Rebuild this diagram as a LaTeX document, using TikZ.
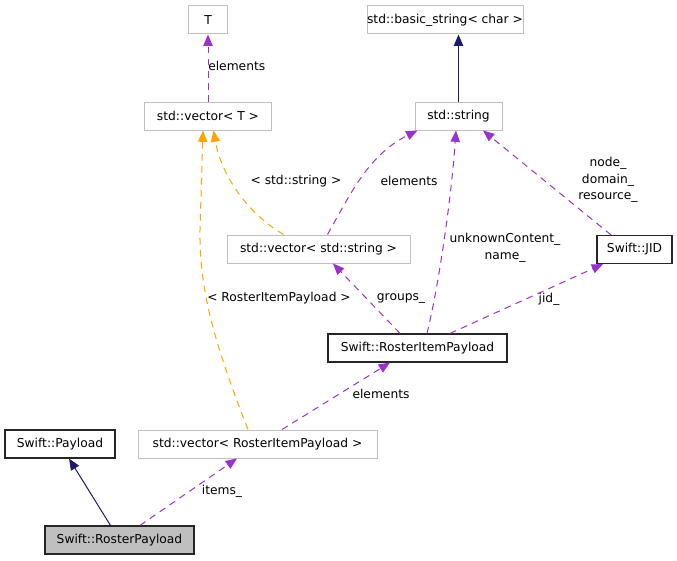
\documentclass[tikz,border=0pt]{standalone}
\usepackage{fontspec}
\setmainfont{DejaVu Sans}
\usetikzlibrary{arrows.meta,calc}

\definecolor{usecol}{RGB}{154,50,205}
\definecolor{tmplcol}{RGB}{255,165,0}
\definecolor{inhcol}{RGB}{25,25,112}
\definecolor{extgrey}{RGB}{191,191,191}
\definecolor{curgrey}{RGB}{191,191,191}

\tikzset{
  box/.style={rectangle,inner sep=0pt,minimum height=21pt,
    font=\fontsize{9.2}{11}\selectfont},
  cls/.style={box,draw=black!85,line width=0.9pt},
  ext/.style={box,draw=extgrey,line width=0.75pt},
  cur/.style={cls,fill=curgrey},
  tip/.style={-{Triangle[length=8.5pt,width=7pt]}},
  usage/.style={tip,draw=usecol,line width=0.75pt,dash pattern=on 5pt off 4pt},
  tmpl/.style={usage,draw=tmplcol},
  inherit/.style={tip,draw=inhcol,line width=0.75pt},
  lbl/.style={inner sep=0pt,align=center,font=\fontsize{9.2}{12.5}\selectfont}
}

\begin{document}
\begin{tikzpicture}[x=0.75pt,y=-0.75pt]
  \useasboundingbox (0,0) rectangle (677,560);

  % classes
  \node[ext, minimum width=29.25pt]  (T)   at (208,20)  {T};
  \node[ext, minimum width=117pt]    (bs)  at (445,20)    {std::basic\_string< char >};
  \node[ext, minimum width=95.25pt]  (vt)  at (208,116) {std::vector< T >};
  \node[ext, minimum width=65.25pt]  (ss)  at (458.5,116) {std::string};
  \node[ext, minimum width=137.25pt] (vs)  at (318.5,249) {std::vector< std::string >};
  \node[cls, minimum width=56.25pt]  (jid) at (634.5,249.5) {Swift::JID};
  \node[cls, minimum width=134.25pt] (rip) at (417.5,348) {Swift::RosterItemPayload};
  \node[cls, minimum width=82.5pt]   (pl)  at (60,444)    {Swift::Payload};
  \node[ext, minimum width=179.25pt] (vr)  at (257.5,444) {std::vector< RosterItemPayload >};
  \node[cur, minimum width=111.75pt] (rp)  at (119.5,540) {Swift::RosterPayload};

  % inheritance
  \draw[inherit] (ss) -- (ss |- bs.south);
  \draw[inherit] (rp) -- (pl);

  % usage
  \draw[usage] (vt) -- (T);
  \draw[usage] ($(vs.north)+(9,0)$) .. controls (350,195) and (368,155) .. ($(ss.south)+(-41,0)$);
  \draw[usage] ($(rip.north)+(9.5,0)$) .. controls (440,280) and (452,190) .. ($(ss.south)+(-2.5,0)$);
  \draw[usage] ($(jid.north)+(-23.5,0)$) -- ($(ss.south)+(24.5,0)$);
  \draw[usage] ($(rip.north)+(-17.5,0)$) -- ($(vs.south)+(14.5,0)$);
  \draw[usage] ($(rip.north)+(32.5,0)$) -- ($(jid.south)+(-31.5,0)$);
  \draw[usage] ($(vr.north)+(24.5,0)$) -- ($(rip.south)+(-27.5,0)$);
  \draw[usage] ($(rp.north)+(20.5,0)$) -- ($(vr.south)+(-20.5,0)$);

  % templates
  \draw[tmpl] ($(vs.north)+(-35,0)$) .. controls (250,215) and (222,178) .. ($(vt.south)+(5.5,0)$);
  \draw[tmpl] ($(vr.north)+(-9.5,0)$) .. controls (215,345) and (199,290) .. (200,230) -- ($(vt.south)+(-5,0)$);

  % labels
  \node[lbl, anchor=west] (l1) at (208,66) {elements};
  \node[lbl] (l2)  at (409,181) {elements};
  \node[lbl] (l3)  at (296,181) {< std::string >};
  \node[lbl] (l4)  at (505,248) {unknownContent\_\\name\_};
  \node[lbl] (l5)  at (608,180) {node\_\\domain\_\\resource\_};
  \node[lbl] (l6)  at (401,299) {groups\_};
  \node[lbl] (l7)  at (549,299) {jid\_};
  \node[lbl] (l8)  at (279,298) {< RosterItemPayload >};
  \node[lbl] (l9)  at (381,394) {elements};
  \node[lbl] (l10) at (222,491) {items\_};
\end{tikzpicture}
\end{document}
